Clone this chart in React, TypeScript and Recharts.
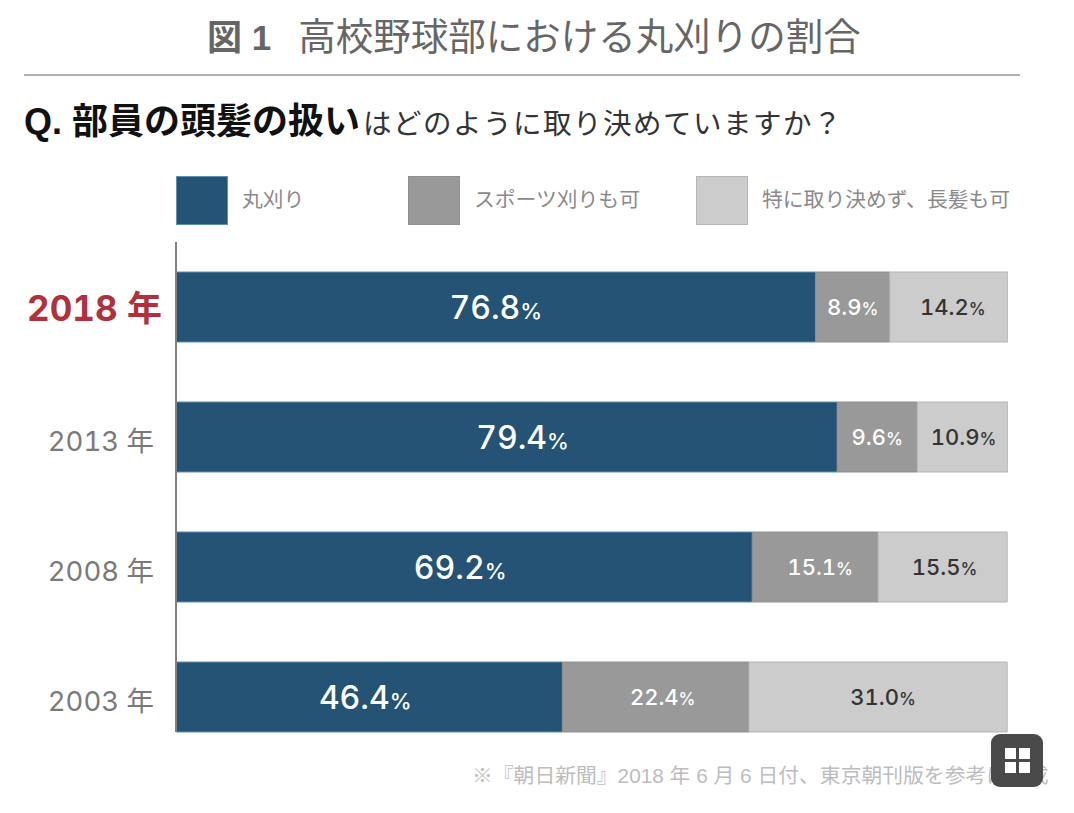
import React from "react";
import { BarChart, Bar, XAxis, YAxis, Legend, LabelList } from "recharts";

const years = ["2018 年", "2013 年", "2008 年", "2003 年"];
const buzz = [76.8, 79.4, 69.2, 46.4];
const sports = [8.9, 9.6, 15.1, 22.4];
const free = [14.2, 10.9, 15.5, 31.0];
const seriesNames = ["丸刈り", "スポーツ刈りも可", "特に取り決めず、長髪も可"];
const seriesColors = ["#245376", "#999999", "#cccccc"];
const seriesStrokes = ["#5f90ad", "#8f8f8f", "#b5b5b5"];
const legendX = [176, 408, 696];

const rows = years.map((year, i) => ({ year, buzz: buzz[i], sports: sports[i], free: free[i] }));

const FONT = '"Liberation Sans", "Noto Sans CJK JP", sans-serif';
const NUM_FONT = 'Inter, "Noto Sans CJK JP", sans-serif';

// the source centres a few labels slightly off their segment
const buzzShift = [0, 16, -4, -4];
const sportsShift = [0, 0, 5, 7];
const freeShift = [4, 1, 2, 5];

const YearTick = (props: any) => {
  const { x, y, payload, index } = props;
  const first = index === 0;
  return (
    <text
      x={first ? x - 6 : x - 14}
      y={y + 14}
      textAnchor="end"
      fontFamily={NUM_FONT}
      fontSize={first ? 35 : 27.5}
      fontWeight={first ? 700 : 400}
      fill={first ? "#b0303c" : "#7a7a7a"}
      style={{ fontVariantNumeric: "tabular-nums" }}
    >
      {payload.value}
    </text>
  );
};

const makeLabel = (size: number, pctSize: number, fill: string, weight: number, shift: number[]) => (props: any) => {
  const { x, y, width, height, value, index } = props;
  return (
    <text
      x={x + width / 2 + shift[index]}
      y={y + height / 2 + size * 0.36}
      textAnchor="middle"
      fontFamily={NUM_FONT}
      fontSize={size}
      fontWeight={weight}
      fill={fill}
      style={{ fontVariantNumeric: "tabular-nums" }}
    >
      {Number(value).toFixed(1)}
      <tspan fontSize={pctSize}>%</tspan>
    </text>
  );
};

const LegendContent = () => (
  <div style={{ position: "relative", width: 1074, height: 0 }}>
    {seriesNames.map((name, i) => (
      <React.Fragment key={name}>
        <div
          style={{
            position: "absolute",
            left: legendX[i],
            top: 0,
            width: 52,
            height: 49,
            boxSizing: "border-box",
            background: seriesColors[i],
            border: `1px solid ${seriesStrokes[i]}`,
          }}
        />
        <div
          style={{
            position: "absolute",
            left: legendX[i] + 66,
            top: 10,
            fontFamily: FONT,
            fontSize: 20.8,
            lineHeight: "28px",
            whiteSpace: "nowrap",
            color: "#8a8a8a",
          }}
        >
          {name}
        </div>
      </React.Fragment>
    ))}
  </div>
);

const overlay: React.CSSProperties = { position: "absolute", whiteSpace: "nowrap", fontFamily: FONT };

export default function App() {
  return (
    <div style={{ position: "absolute", left: 0, top: 0, width: 1074, height: 813, background: "#fff", overflow: "hidden" }}>
      <div style={{ ...overlay, left: 207, top: 14, lineHeight: "46px", color: "#666" }}>
        <b style={{ fontSize: 35 }}>図 1</b>
        <span style={{ fontSize: 37.5, marginLeft: 27 }}>高校野球部における丸刈りの割合</span>
      </div>
      <div style={{ position: "absolute", left: 24, top: 74, width: 996, height: 2, background: "#b0b0b0" }} />
      <div style={{ ...overlay, left: 24, top: 100, lineHeight: "44px", color: "#111" }}>
        <b style={{ fontSize: 36 }}>Q. 部員の頭髪の扱い</b>
        <span style={{ fontSize: 28.5, color: "#333", marginLeft: 3, letterSpacing: 1.5 }}>はどのように取り決めていますか？</span>
      </div>

      <BarChart
        width={1074}
        height={813}
        data={rows}
        layout="vertical"
        barSize={70}
        margin={{ top: 242, right: 66, bottom: 81, left: 0 }}
      >
        <XAxis type="number" hide domain={[0, 99.9]} allowDataOverflow />
        <YAxis
          type="category"
          dataKey="year"
          width={176}
          padding={{ top: 0, bottom: -30 }}
          tickLine={false}
          axisLine={{ stroke: "#808080", strokeWidth: 2 }}
          tick={<YearTick />}
          interval={0}
        />
        <Legend content={<LegendContent />} wrapperStyle={{ position: "absolute", left: 0, top: 176, width: 1074, height: 0 }} />
        <Bar dataKey="buzz" name={seriesNames[0]} stackId="a" fill={seriesColors[0]} stroke={seriesStrokes[0]} strokeWidth={1} isAnimationActive={false}>
          <LabelList dataKey="buzz" content={makeLabel(32, 22, "#ffffff", 500, buzzShift)} />
        </Bar>
        <Bar dataKey="sports" name={seriesNames[1]} stackId="a" fill={seriesColors[1]} stroke={seriesStrokes[1]} strokeWidth={1} isAnimationActive={false}>
          <LabelList dataKey="sports" content={makeLabel(22, 17, "#ffffff", 500, sportsShift)} />
        </Bar>
        <Bar dataKey="free" name={seriesNames[2]} stackId="a" fill={seriesColors[2]} stroke={seriesStrokes[2]} strokeWidth={1} isAnimationActive={false}>
          <LabelList dataKey="free" content={makeLabel(22, 17, "#333333", 500, freeShift)} />
        </Bar>
      </BarChart>

      <div style={{ ...overlay, left: 472, top: 762, fontSize: 20.8, lineHeight: "28px", color: "#bdbdbd" }}>
        ※『朝日新聞』2018 年 6 月 6 日付、東京朝刊版を参考に作成
      </div>
      <svg style={{ position: "absolute", left: 991, top: 734 }} width={52} height={53}>
        <rect x={0} y={0} width={52} height={53} rx={9} fill="#4a4a4a" />
        <rect x={14} y={14} width={11} height={11} fill="#fff" />
        <rect x={28} y={14} width={11} height={11} fill="#fff" />
        <rect x={14} y={28} width={11} height={11} fill="#fff" />
        <rect x={28} y={28} width={11} height={11} fill="#fff" />
      </svg>
    </div>
  );
}
